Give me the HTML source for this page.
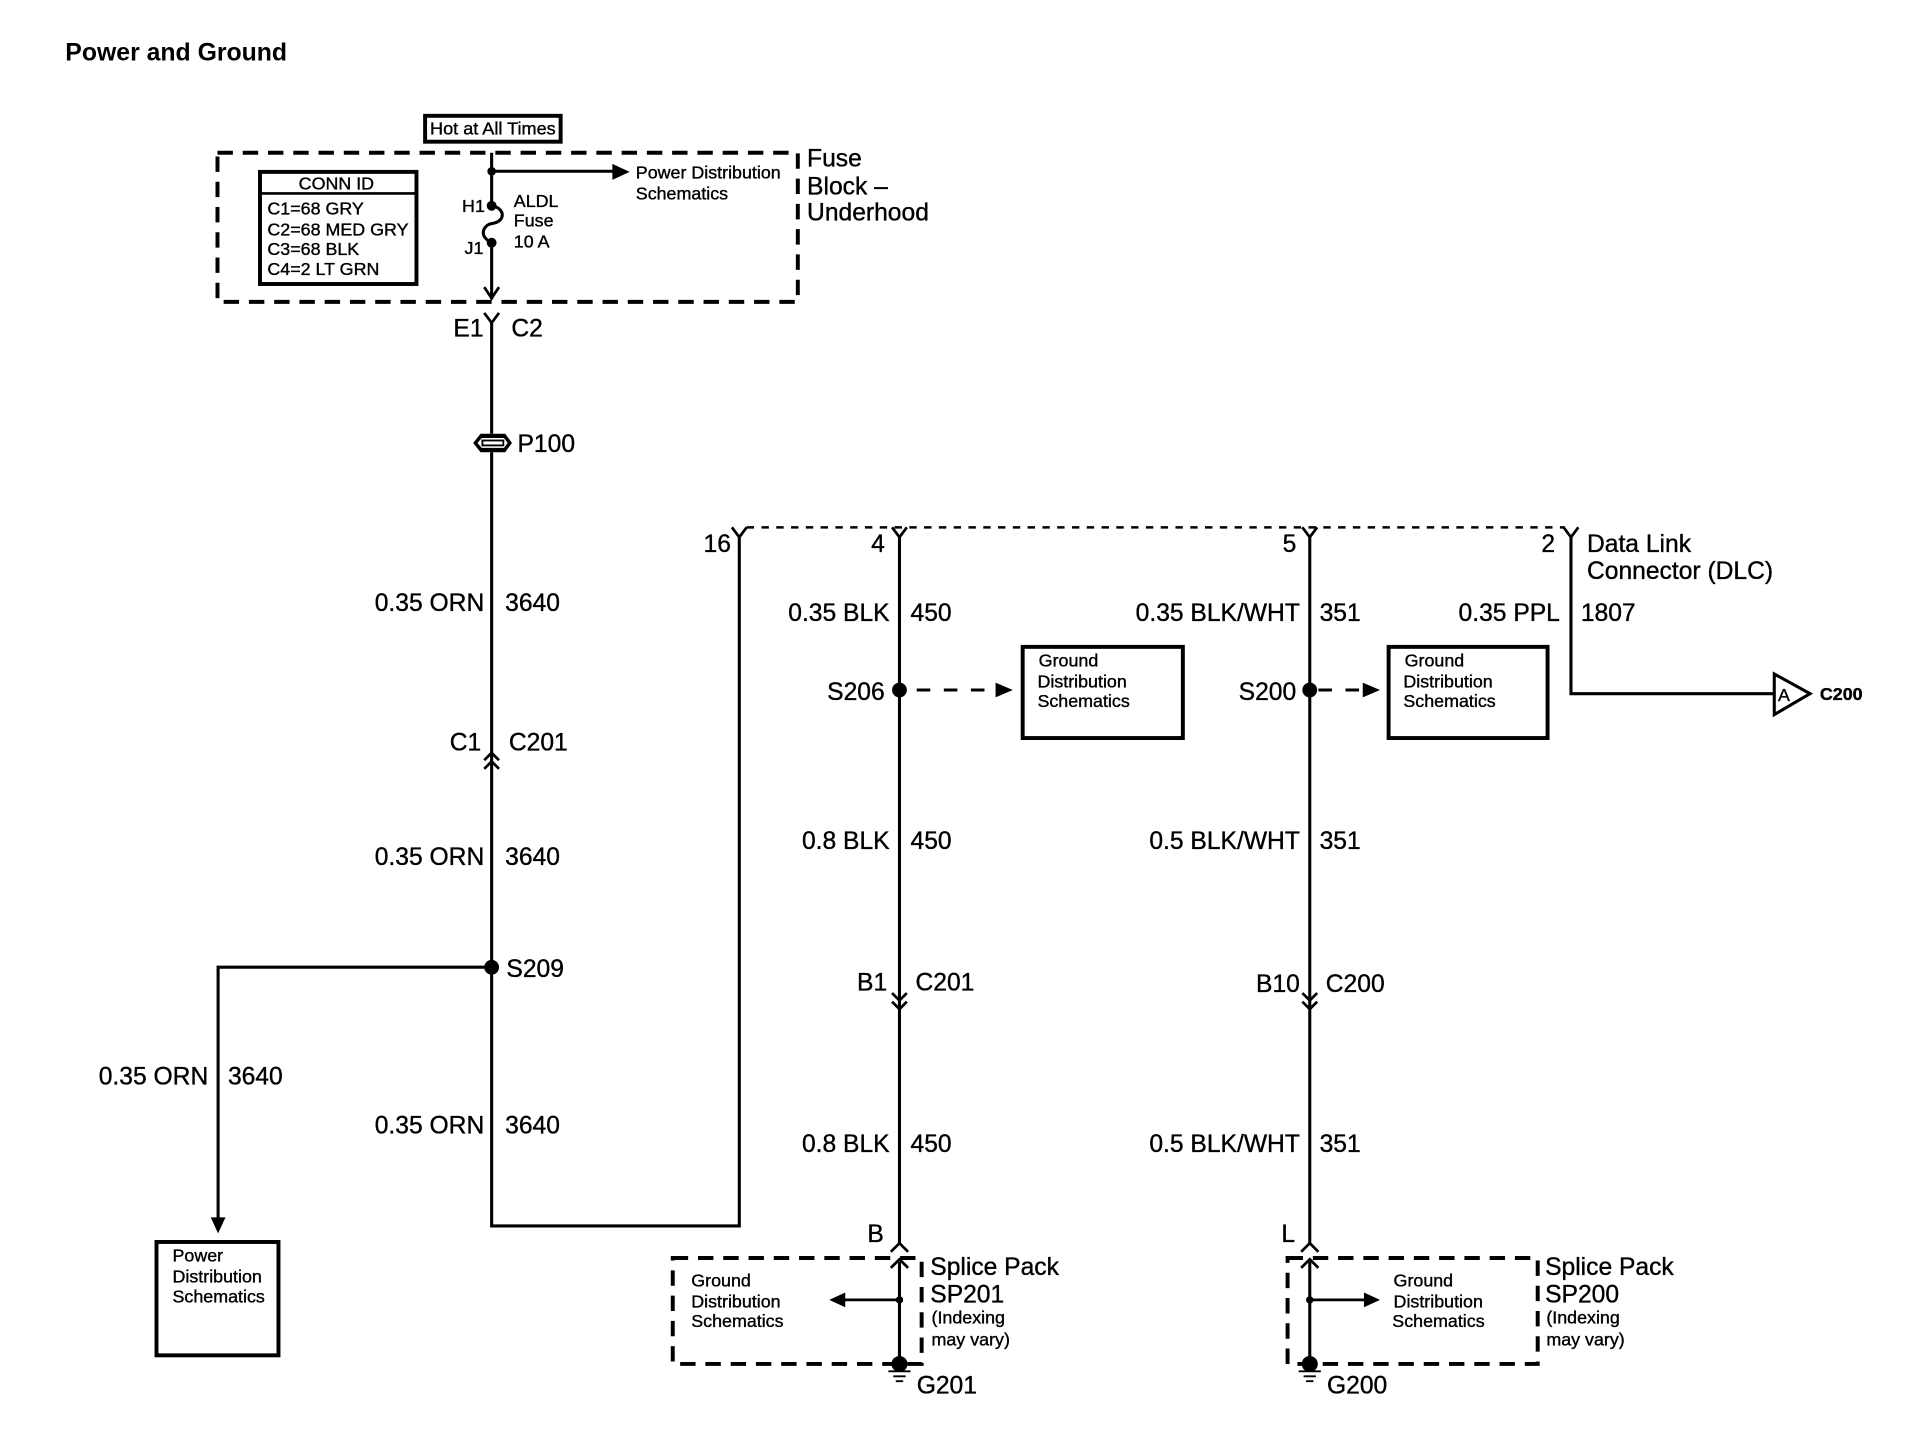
<!DOCTYPE html>
<html><head><meta charset="utf-8"><style>
html,body{margin:0;padding:0;background:#fff}
svg{display:block}
text{font-family:"Liberation Sans",sans-serif;font-size:20px;fill:#000;stroke:#000;stroke-width:.3}
.s{font-size:14.5px}
.e{text-anchor:end}
.w{fill:none;stroke:#000;stroke-width:2.5}
.d{fill:none;stroke:#000;stroke-width:3.2;stroke-dasharray:12.500 8}
.b{fill:#fff;stroke:#000;stroke-width:3.2}
.c{fill:none;stroke:#000;stroke-width:2.2}
</style></head><body>
<svg width="1932" height="1456" viewBox="0 0 1568 1181.7" xmlns="http://www.w3.org/2000/svg">
<rect width="1568" height="1182" fill="#fff"/>
<text x="53" y="49" style="font-weight:bold;font-size:20px;stroke-width:0" textLength="180" lengthAdjust="spacingAndGlyphs">Power and Ground</text>

<!-- Fuse block -->
<rect x="345" y="94" width="110" height="21" class="b"/>
<text x="349" y="109" class="s" textLength="102" lengthAdjust="spacingAndGlyphs">Hot at All Times</text>
<rect x="176.500" y="124" width="471" height="121" class="d"/>
<rect x="211" y="139.500" width="127" height="91" class="b"/>
<path d="M211 157H338" class="c"/>
<text x="273" y="154" class="s" text-anchor="middle">CONN ID</text>
<text x="217" y="174" class="s">C1=68 GRY</text>
<text x="217" y="191" class="s">C2=68 MED GRY</text>
<text x="217" y="207" class="s">C3=68 BLK</text>
<text x="217" y="223" class="s">C4=2 LT GRN</text>
<path d="M399 124V167M399 197V243" class="w"/>
<path d="M399 139H500" class="w"/>
<path d="M497 133L511 139.500L497 146Z" fill="#000"/>
<circle cx="399" cy="139" r="3.500" fill="#000"/>
<circle cx="399" cy="167" r="4" fill="#000"/>
<circle cx="399" cy="197" r="4" fill="#000"/>
<path d="M399 167C406 168 409 173 407 177C405 181 400 181 397 182C393 184 391 188 393 192C395 195 397 196 399 197" fill="none" stroke="#000" stroke-width="2.500"/>
<path d="M393 233L399 242L405 233" class="c"/>
<text x="375" y="172" class="s">H1</text>
<text x="377" y="206" class="s">J1</text>
<text x="417" y="168" class="s">ALDL</text>
<text x="417" y="184" class="s">Fuse</text>
<text x="417" y="201" class="s">10 A</text>
<text x="516" y="145" class="s">Power Distribution</text>
<text x="516" y="162" class="s">Schematics</text>
<text x="655" y="135">Fuse</text>
<text x="655" y="158">Block –</text>
<text x="655" y="179">Underhood</text>

<!-- Left wire -->
<path d="M393 254L399 262L405 254" class="c"/>
<path d="M399 262V352M399 367V995H600V436" class="w"/>
<path d="M384 359.500L390 352H410L415.500 359.500L410 367H390Z" fill="#000"/>
<path d="M387.500 359.500L391 355.500H409L412 359.500L409 363.500H391Z" fill="#fff"/>
<rect x="391.500" y="357.500" width="17" height="4" fill="#fff" stroke="#000" stroke-width="1.500"/>
<text x="420" y="367">P100</text>
<text x="368" y="273">E1</text>
<text x="415" y="273">C2</text>
<text x="393" y="496" class="e">0.35 ORN</text>
<text x="410" y="496">3640</text>
<path d="M393 617L399 611L405 617M393 624L399 618L405 624" class="c"/>
<text x="365" y="609">C1</text>
<text x="413" y="609">C201</text>
<text x="393" y="702" class="e">0.35 ORN</text>
<text x="410" y="702">3640</text>
<circle cx="399" cy="785" r="6" fill="#000"/>
<text x="411" y="793">S209</text>
<path d="M399 785H177V990" class="w"/>
<path d="M171 988L177 1001L183 988Z" fill="#000"/>
<text x="169" y="880" class="e">0.35 ORN</text>
<text x="185" y="880">3640</text>
<text x="393" y="920" class="e">0.35 ORN</text>
<text x="410" y="920">3640</text>
<rect x="127" y="1008" width="99" height="92" class="b"/>
<text x="140" y="1024" class="s">Power</text>
<text x="140" y="1041" class="s">Distribution</text>
<text x="140" y="1057" class="s">Schematics</text>

<!-- DLC -->
<path d="M606 428H1270" fill="none" stroke="#000" stroke-width="2" stroke-dasharray="6 6"/>
<path d="M594 428L600 436L606 428M724 428L730 436L736 428M1057 428L1063 436L1069 428M1269 428L1275 436L1281 428" class="c"/>
<text x="571" y="448">16</text>
<text x="707" y="448">4</text>
<text x="1041" y="448">5</text>
<text x="1251" y="448">2</text>
<text x="1288" y="448">Data Link</text>
<text x="1288" y="470">Connector (DLC)</text>

<!-- Middle wire -->
<path d="M730 436V1010M730 1024V1105" class="w"/>
<text x="722" y="504" class="e">0.35 BLK</text>
<text x="739" y="504">450</text>
<circle cx="730" cy="560" r="6" fill="#000"/>
<text x="718" y="568" class="e">S206</text>
<path d="M744 560H810" fill="none" stroke="#000" stroke-width="2.500" stroke-dasharray="11 11"/>
<path d="M808 554L822 560L808 566Z" fill="#000"/>
<rect x="830" y="525" width="130" height="74" class="b"/>
<text x="843" y="541" class="s">Ground</text>
<text x="842" y="558" class="s">Distribution</text>
<text x="842" y="574" class="s">Schematics</text>
<text x="722" y="689" class="e">0.8 BLK</text>
<text x="739" y="689">450</text>
<path d="M724 806L730 812L736 806M724 813L730 819L736 813" class="c"/>
<text x="720" y="804" class="e">B1</text>
<text x="743" y="804">C201</text>
<text x="722" y="935" class="e">0.8 BLK</text>
<text x="739" y="935">450</text>
<text x="704" y="1008">B</text>
<path d="M723 1016L730 1009L737 1016" class="c"/>
<rect x="546" y="1021" width="202" height="86" class="d"/>
<path d="M723 1029L730 1022L737 1029" class="c"/>
<path d="M730 1055H684" class="c"/>
<path d="M686 1049L673 1055L686 1061Z" fill="#000"/>
<circle cx="730" cy="1055" r="3" fill="#000"/>
<circle cx="730" cy="1107" r="6.500" fill="#000"/>
<path d="M721 1113H739M725 1117H735M727 1121H733" stroke="#000" stroke-width="1.500" fill="none"/>
<text x="561" y="1044" class="s">Ground</text>
<text x="561" y="1061" class="s">Distribution</text>
<text x="561" y="1077" class="s">Schematics</text>
<text x="755" y="1035">Splice Pack</text>
<text x="755" y="1057">SP201</text>
<text x="756" y="1074" class="s">(Indexing</text>
<text x="756" y="1092" class="s">may vary)</text>
<text x="744" y="1131">G201</text>

<!-- Right wire -->
<path d="M1063 436V1010M1063 1024V1105" class="w"/>
<text x="1055" y="504" class="e">0.35 BLK/WHT</text>
<text x="1071" y="504">351</text>
<circle cx="1063" cy="560" r="6" fill="#000"/>
<text x="1052" y="568" class="e">S200</text>
<path d="M1070 560H1106" fill="none" stroke="#000" stroke-width="2.500" stroke-dasharray="11 11"/>
<path d="M1106 554L1120 560L1106 566Z" fill="#000"/>
<rect x="1127" y="525" width="129" height="74" class="b"/>
<text x="1140" y="541" class="s">Ground</text>
<text x="1139" y="558" class="s">Distribution</text>
<text x="1139" y="574" class="s">Schematics</text>
<text x="1055" y="689" class="e">0.5 BLK/WHT</text>
<text x="1071" y="689">351</text>
<path d="M1057 806L1063 812L1069 806M1057 813L1063 819L1069 813" class="c"/>
<text x="1055" y="805" class="e">B10</text>
<text x="1076" y="805">C200</text>
<text x="1055" y="935" class="e">0.5 BLK/WHT</text>
<text x="1071" y="935">351</text>
<text x="1040" y="1008">L</text>
<path d="M1056 1016L1063 1009L1070 1016" class="c"/>
<rect x="1045" y="1021" width="203" height="86" class="d"/>
<path d="M1056 1029L1063 1022L1070 1029" class="c"/>
<path d="M1063 1055H1110" class="c"/>
<path d="M1107 1049L1120 1055L1107 1061Z" fill="#000"/>
<circle cx="1063" cy="1055" r="3" fill="#000"/>
<circle cx="1063" cy="1107" r="6.500" fill="#000"/>
<path d="M1054 1113H1072M1058 1117H1068M1060 1121H1066" stroke="#000" stroke-width="1.500" fill="none"/>
<text x="1131" y="1044" class="s">Ground</text>
<text x="1131" y="1061" class="s">Distribution</text>
<text x="1130" y="1077" class="s">Schematics</text>
<text x="1254" y="1035">Splice Pack</text>
<text x="1254" y="1057">SP200</text>
<text x="1255" y="1074" class="s">(Indexing</text>
<text x="1255" y="1092" class="s">may vary)</text>
<text x="1077" y="1131">G200</text>

<!-- PPL wire -->
<path d="M1275 436V563H1440" class="w"/>
<text x="1266" y="504" class="e">0.35 PPL</text>
<text x="1283" y="504">1807</text>
<path d="M1440 547L1469 563L1440 580Z" fill="#fff" stroke="#000" stroke-width="2.500"/>
<text x="1443" y="569" class="s">A</text>
<text x="1477" y="568" class="s" style="font-weight:bold">C200</text>
</svg>
</body></html>
